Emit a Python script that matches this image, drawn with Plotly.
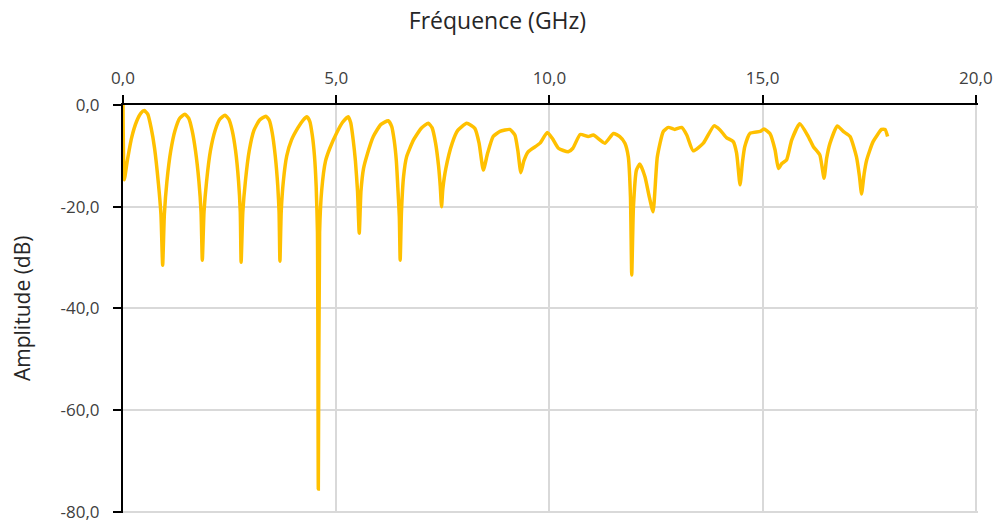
import plotly.graph_objects as go

# frequency (GHz) and amplitude (dB)
freq_ghz = [
    0.00, 0.03, 0.10, 0.20, 0.32, 0.42, 0.50, 0.58, 0.66, 0.74, 0.83, 0.89, 0.93, 0.97, 1.03, 1.12, 1.22, 1.33,
    1.45, 1.54, 1.62, 1.70, 1.78, 1.83, 1.86, 1.90, 1.96, 2.05, 2.16, 2.27, 2.39, 2.48, 2.56, 2.64, 2.71, 2.75,
    2.77, 2.81, 2.87, 2.96, 3.07, 3.20, 3.35, 3.43, 3.50, 3.57, 3.63, 3.66, 3.68, 3.71, 3.76, 3.84, 3.95, 4.10,
    4.22, 4.31, 4.38, 4.44, 4.49, 4.53, 4.56, 4.58, 4.61, 4.66, 4.75, 4.85, 5.01, 5.15, 5.28, 5.34, 5.40, 5.45,
    5.50, 5.54, 5.58, 5.64, 5.71, 5.87, 6.05, 6.22, 6.30, 6.36, 6.41, 6.45, 6.48, 6.50, 6.53, 6.58, 6.65, 6.81,
    7.00, 7.16, 7.25, 7.33, 7.40, 7.44, 7.47, 7.50, 7.57, 7.72, 7.85, 8.06, 8.25, 8.35, 8.45, 8.55, 8.68, 8.84,
    9.07, 9.19, 9.26, 9.33, 9.40, 9.50, 9.78, 9.95, 10.07, 10.21, 10.44, 10.55, 10.72, 10.91, 11.03, 11.30,
    11.50, 11.65, 11.77, 11.85, 11.90, 11.93, 11.97, 12.04, 12.12, 12.24, 12.34, 12.43, 12.53, 12.67, 12.79,
    12.94, 13.10, 13.22, 13.37, 13.61, 13.86, 14.00, 14.15, 14.31, 14.39, 14.47, 14.53, 14.58, 14.70, 14.94,
    15.03, 15.17, 15.29, 15.37, 15.45, 15.56, 15.68, 15.87, 16.07, 16.19, 16.34, 16.44, 16.50, 16.58, 16.75,
    16.89, 17.05, 17.20, 17.27, 17.32, 17.38, 17.44, 17.59, 17.79, 17.87, 17.93,
]
amplitude_db = [
    0.0, -14.7, -11.0, -6.5, -3.2, -1.6, -1.1, -1.8, -4.5, -8.5, -15.4, -21.5, -31.5, -21.5, -15.0, -9.0, -5.0, -2.6,
    -1.8, -2.6, -5.0, -9.0, -15.0, -21.0, -30.5, -21.0, -15.0, -9.0, -5.0, -2.8, -2.0, -2.8, -5.0, -9.0, -15.0, -21.0,
    -30.9, -21.0, -15.0, -9.0, -5.0, -3.0, -2.2, -3.0, -5.5, -10.0, -16.0, -21.0, -30.7, -21.0, -15.0, -10.0, -6.9, -4.5,
    -3.0, -2.3, -3.2, -6.0, -10.0, -16.0, -25.0, -75.5, -25.0, -16.7, -11.0, -8.5, -5.5, -3.4, -2.3, -3.5, -7.0, -11.0,
    -17.0, -25.2, -17.0, -12.5, -10.2, -6.2, -3.8, -3.1, -4.2, -7.0, -11.0, -17.0, -22.0, -30.5, -21.0, -14.0, -10.2, -6.9,
    -4.5, -3.6, -4.5, -7.5, -12.0, -16.0, -20.0, -16.5, -12.5, -7.5, -5.0, -3.6, -4.6, -7.5, -12.8, -9.5, -6.2, -5.2,
    -4.8, -5.9, -9.0, -13.3, -11.0, -9.2, -7.5, -5.4, -6.6, -8.5, -9.2, -8.5, -5.8, -6.2, -5.9, -7.5,
    -5.6, -6.2, -7.5, -10.2, -18.0, -33.4, -20.0, -12.8, -11.6, -14.1, -18.0, -21.0, -10.2, -5.2, -4.4,
    -4.8, -4.4, -5.9, -9.0, -7.5, -4.1, -4.9, -6.4, -7.2, -9.5, -15.7, -11.0, -8.2, -5.6, -5.2,
    -4.7, -5.6, -8.8, -12.5, -11.5, -10.8, -6.9, -3.7, -6.2, -8.2, -9.8, -14.4, -10.5, -7.5, -4.1,
    -5.2, -6.2, -10.2, -14.0, -17.5, -13.5, -10.8, -7.2, -4.8, -4.8, -6.2,
]

x_ticks = [0, 5, 10, 15, 20]
x_tick_labels = ["0,0", "5,0", "10,0", "15,0", "20,0"]
y_ticks = [0, -20, -40, -60, -80]
y_tick_labels = ["0,0", "-20,0", "-40,0", "-60,0", "-80,0"]

font = "Open Sans"
text_color = "#404040"

fig = go.Figure()

fig.add_trace(
    go.Scatter(
        x=freq_ghz,
        y=amplitude_db,
        mode="lines",
        line=dict(color="#FFC000", width=3.5, shape="spline", smoothing=0.5),
        showlegend=False,
        hoverinfo="skip",
    )
)

fig.update_layout(
    width=995,
    height=522,
    margin=dict(l=123, r=17, t=105, b=9),
    paper_bgcolor="white",
    plot_bgcolor="white",
    font=dict(family=font, color=text_color, size=17),
    title=dict(
        text="Fréquence (GHz)",
        x=0.5,
        xref="container",
        xanchor="center",
        y=1 - 21 / 522,
        yref="container",
        yanchor="middle",
        font=dict(size=23, color="#262626"),
    ),
    xaxis=dict(
        side="top",
        # a hair past 20 so the last gridline is not dropped at the edge
        range=[0, 20.05],
        tickvals=x_ticks,
        ticktext=x_tick_labels,
        showgrid=True,
        gridcolor="#D9D9D9",
        gridwidth=2,
        zeroline=False,
        showline=True,
        linecolor="black",
        linewidth=2,
        ticks="outside",
        ticklen=8,
        tickwidth=2,
        tickcolor="black",
        ticklabelstandoff=4,
        ticklabeloverflow="allow",
        automargin=False,
    ),
    yaxis=dict(
        range=[-80.2, 0],
        tickvals=y_ticks,
        ticktext=y_tick_labels,
        showgrid=True,
        gridcolor="#D9D9D9",
        gridwidth=2,
        zeroline=False,
        showline=True,
        linecolor="black",
        linewidth=2,
        ticks="outside",
        ticklen=8,
        tickwidth=2,
        tickcolor="black",
        ticklabelstandoff=10,
        ticklabeloverflow="allow",
        automargin=False,
    ),
    annotations=[
        dict(
            text="Amplitude (dB)",
            xref="paper",
            yref="paper",
            x=(22 - 123) / 855,
            y=0.5,
            xanchor="center",
            yanchor="middle",
            textangle=-90,
            showarrow=False,
            font=dict(size=21, color="#262626"),
        )
    ],
)

# drop the default page margin so the figure sits at the window's top-left corner
fig.write_html(
    "out.html",
    config={"displayModeBar": False},
    post_script="document.body.style.margin='0';",
)
